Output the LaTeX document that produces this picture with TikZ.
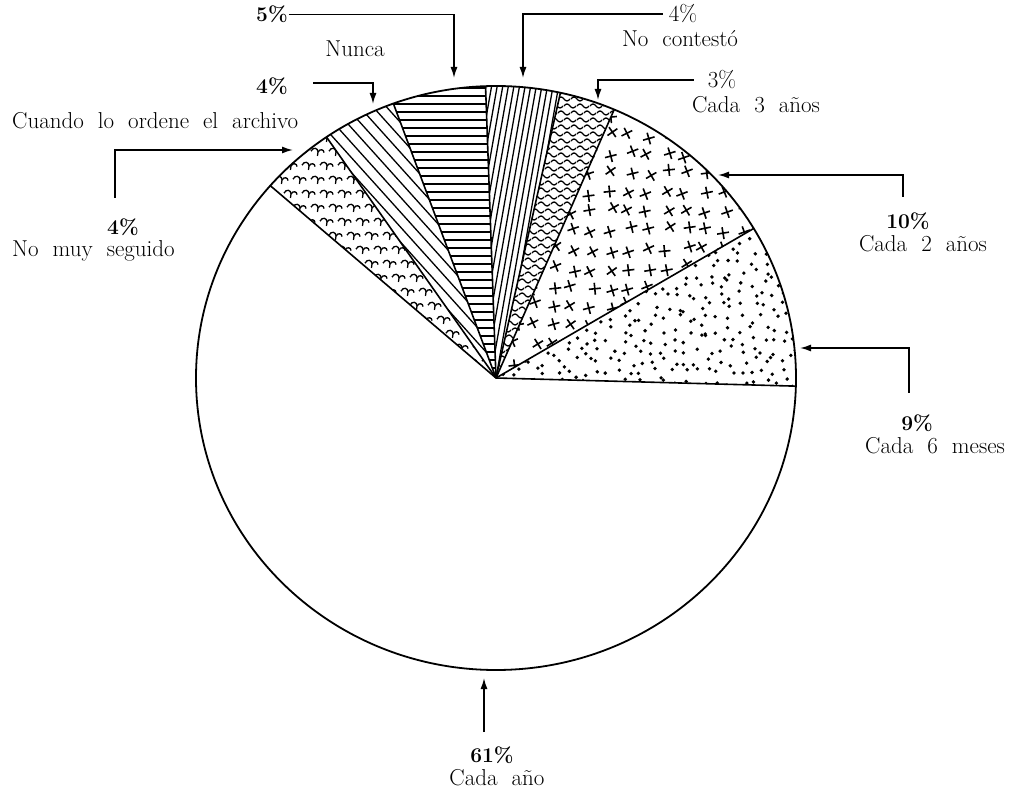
\documentclass[tikz,border=0pt]{standalone}
\usetikzlibrary{arrows.meta}
\newcommand\labfont{\fontsize{23}{26}\selectfont\spaceskip=14pt plus 2pt minus 2pt\relax}
\newcommand\pctfont{\fontsize{21}{24}\selectfont\bfseries}
\newcommand\sliceclip[2]{\clip (0,0) -- ({300*cos(#1)},{292*sin(#1)}) arc[start angle=#1, end angle=#2, x radius=300, y radius=292] -- cycle;}
\begin{document}
\begin{tikzpicture}[x=1pt,y=-1pt,
  lab/.style={font=\labfont, inner sep=0pt, anchor=base},
  labw/.style={font=\labfont, inner sep=0pt, anchor=base west},
  pct/.style={font=\pctfont, inner sep=0pt, anchor=base},
  pctl/.style={font=\labfont, inner sep=0pt, anchor=base},
  arr/.style={line width=1.5pt,-{Latex[length=11pt,width=7pt]}},
  rim/.style={line width=1.8pt},
  radial/.style={line width=1.6pt},
  hatch/.style={line width=1.3pt},
]
\fill[white] (0,0) rectangle (1028,791);
\useasboundingbox (0,0) rectangle (1028,791);

\begin{scope}[shift={(496,378)}]
  \coordinate (C) at (0,0);
  % 9% Cada 6 meses : random dots
  \begin{scope}
    \sliceclip{1.6}{-30.8}
    \pgfmathsetseed{11}
    \foreach \xx in {4,15,...,304} \foreach \yy in {-170,-159,...,16}{
      \pgfmathsetmacro\jx{\xx+5*rand}\pgfmathsetmacro\jy{\yy+5*rand}
      \fill (\jx,\jy) circle[radius=1.9];}
  \end{scope}
  % 10% Cada 2 anos : crosses
  \begin{scope}
    \sliceclip{-30.8}{-66.8}
    \pgfmathsetseed{5}
    \foreach \xx in {0,19,...,290} \foreach \yy in {-300,-281,...,0}{
      \pgfmathsetmacro\jx{\xx+4*rand}\pgfmathsetmacro\jy{\yy+4*rand}\pgfmathsetmacro\jr{20+15*rand}
      \draw[line width=1.6pt,shift={(\jx,\jy)},rotate=\jr] (-6,0) -- (6,0) (0,-6) -- (0,6);}
  \end{scope}
  % 3% Cada 3 anos : tildes
  \begin{scope}
    \sliceclip{-66.8}{-77.6}
    \foreach \yy [count=\k] in {-300,-293,...,0}{
      \pgfmathsetmacro\off{mod(\k,2)*6}
      \foreach \xx in {-10,3,...,130}{
        \draw[hatch] ({\xx+\off-6},\yy) sin ++(3,-2) cos ++(3,2) sin ++(3,2) cos ++(3,-2);}}
  \end{scope}
  % 4% No contesto : steep lines
  \begin{scope}
    \sliceclip{-77.6}{-92}
    \begin{scope}[rotate=80]
      \foreach \yy in {-330,-324.5,...,330} \draw[hatch] (-340,\yy) -- (340,\yy);
    \end{scope}
  \end{scope}
  % 5% Nunca : horizontal lines
  \begin{scope}
    \sliceclip{-92}{-110}
    \foreach \yy in {-298,-290,...,0} \draw[hatch] (-140,\yy) -- (30,\yy);
  \end{scope}
  % 4% Cuando lo ordene el archivo : diagonal lines
  \begin{scope}
    \sliceclip{-110}{-124.4}
    \begin{scope}[rotate=-48]
      \foreach \yy in {-330,-320,...,330} \draw[hatch] (-340,\yy) -- (340,\yy);
    \end{scope}
  \end{scope}
  % 4% No muy seguido : small seagulls
  \begin{scope}
    \sliceclip{-124.4}{-138.8}
    \foreach \yy [count=\k] in {-240,-226,...,0}{
      \pgfmathsetmacro\off{mod(\k,2)*9}
      \foreach \xx in {-250,-232,...,0}{
        \draw[hatch,shift={({\xx+\off},\yy)},rotate=-15] (-7,1) .. controls (-6,-4) and (-1,-4) .. (0,0) .. controls (1,-4) and (5,-4) .. (6,-1) (0,0) -- (0.5,4);}}
  \end{scope}
  % outline
  \draw[rim] (C) ellipse[x radius=300, y radius=292];
  \foreach \a in {1.6,-30.8,-66.8,-77.6,-92,-110,-124.4,-138.8}
    \draw[radial] (C) -- ({300*cos(\a)},{292*sin(\a)});
\end{scope}

% labels
\node[pct] (p5) at (272,22) {5\%};
\node[lab] (t5) at (355,57) {Nunca};
\node[pct] (pC) at (272,94) {4\%};
\node[labw] (tC) at (12,129) {Cuando lo ordene el archivo};
\node[pct] (pM) at (123,235) {4\%};
\node[labw] (tM) at (12,257) {No muy seguido};
\node[pct] (p61) at (492,762) {61\%};
\node[lab] (t61) at (497,785) {Cada año};
\node[pct] (p9) at (917,430) {9\%};
\node[lab] (t9) at (935,453) {Cada 6 meses};
\node[pct] (p10) at (908,229) {10\%};
\node[lab] (t10) at (923,252) {Cada 2 años};
\node[pctl] (p3) at (722,88) {3\%};
\node[lab] (t3) at (756,113) {Cada 3 años};
\node[pctl] (pN) at (683,22) {4\%};
\node[lab] (tN) at (680,47) {No contestó};

% arrow ends
\coordinate (tip5) at (454,78);
\coordinate (tipN) at (523,78);
\coordinate (tip3) at (598,100);
\coordinate (s10) at (903,197);
\coordinate (tip10) at (718,175);
\coordinate (s9) at (909,393);
\coordinate (tip9) at (800,348);
\coordinate (s61) at (484,732);
\coordinate (tip61) at (484,678);
\coordinate (sM) at (115,198);
\coordinate (tipM) at (293,150);
\coordinate (sC) at (313,83);
\coordinate (tipC) at (373,104);

\draw[arr] ([xshift=1pt]p5.east) -| (tip5);
\draw[arr] ([xshift=-6pt]pN.west) -| (tipN);
\draw[arr] ([xshift=-14pt]p3.west) -| (tip3);
\draw[arr] (s10) |- (tip10);
\draw[arr] (s9) |- (tip9);
\draw[arr] (s61) -- (tip61);
\draw[arr] (sM) |- (tipM);
\draw[arr] (sC) -| (tipC);
\end{tikzpicture}
\end{document}
